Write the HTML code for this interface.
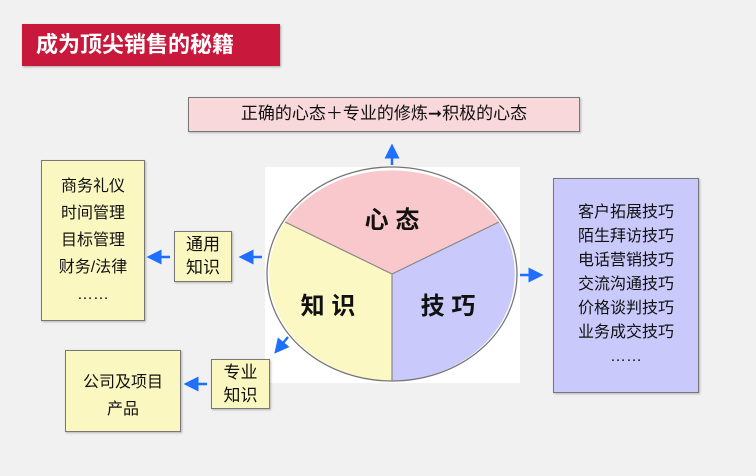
<!DOCTYPE html>
<html><head><meta charset="utf-8"><style>
*{margin:0;padding:0;box-sizing:border-box}
body{width:756px;height:476px;background:#f1f1f1;position:relative;overflow:hidden;font-family:"Liberation Sans","Noto Sans CJK SC",sans-serif;color:#111}
.a{position:absolute}
.box{position:absolute;border:1.5px solid #777;box-shadow:1px 1px 2px rgba(0,0,0,.25);text-align:center}
.y{background:#fbf7c0}
</style></head><body>
<div class="a" style="left:22px;top:24px;width:258px;height:42px;background:#c8193c;box-shadow:1px 1px 2px rgba(0,0,0,.3);color:#fff;font-weight:bold;font-size:22px;line-height:42px;padding-left:14px">成为顶尖销售的秘籍</div>
<div class="box" style="left:188px;top:97px;width:392px;height:35px;background:#f9d8dc;font-size:17px;line-height:31px">正确的心态＋专业的修炼➞积极的心态</div>
<div class="a" style="left:265px;top:167px;width:255px;height:216px;background:#fff"></div>
<svg class="a" style="left:0;top:0" width="756" height="476">
<defs><marker id="m" markerWidth="6" markerHeight="6" refX="3" refY="3" orient="auto"><path d="M0,0L6,3L0,6z" fill="#1f6fff"/></marker></defs>
<path d="M392,274 L285,222 A125,107 0 0 1 499,222 Z" fill="#f9c8cc"/>
<path d="M392,274 L285,222 A125,107 0 0 0 392,381 Z" fill="#fbf8c4"/>
<path d="M392,274 L499,222 A125,107 0 0 1 392,381 Z" fill="#c9c9fb"/>
<ellipse cx="392" cy="274" rx="125" ry="107" fill="none" stroke="#777" stroke-width="1.3"/>
<path d="M392,274L285,222M392,274L499,222M392,274L392,381" stroke="#888" stroke-width="1.2"/>
<g stroke="#1f6fff" stroke-width="2.5" marker-end="url(#m)">
<line x1="392" y1="165" x2="392" y2="151"/>
<line x1="262" y1="257" x2="246" y2="257"/>
<line x1="170" y1="257" x2="154" y2="257"/>
<line x1="520" y1="275" x2="536" y2="275"/>
<line x1="288" y1="337" x2="279" y2="348"/>
<line x1="207" y1="384" x2="191" y2="384"/>
</g>
<g font-size="24" font-weight="bold" text-anchor="middle" font-family="Liberation Sans,Noto Sans CJK SC,sans-serif" fill="#111">
<text x="392" y="228">心 态</text>
<text x="328" y="314">知 识</text>
<text x="448" y="314">技 巧</text>
</g>
</svg>
<div class="box y" style="left:41px;top:160px;width:104px;height:161px;font-size:16px;line-height:27px;padding-top:12px">商务礼仪<br>时间管理<br>目标管理<br>财务/法律<br>……</div>
<div class="box y" style="left:174px;top:231px;width:58px;height:51px;font-size:17px;line-height:23px;padding-top:1px">通用<br>知识</div>
<div class="box y" style="left:65px;top:350px;width:116px;height:82px;font-size:16px;line-height:27px;padding-top:18px">公司及项目<br>产品</div>
<div class="box y" style="left:211px;top:359px;width:59px;height:50px;font-size:17px;line-height:23px;padding-top:1px">专业<br>知识</div>
<div class="box" style="left:553px;top:178px;width:146px;height:215px;background:#c9c9fb;font-size:16px;line-height:24px;padding-top:22px">客户拓展技巧<br>陌生拜访技巧<br>电话营销技巧<br>交流沟通技巧<br>价格谈判技巧<br>业务成交技巧<br>……</div>
</body></html>
